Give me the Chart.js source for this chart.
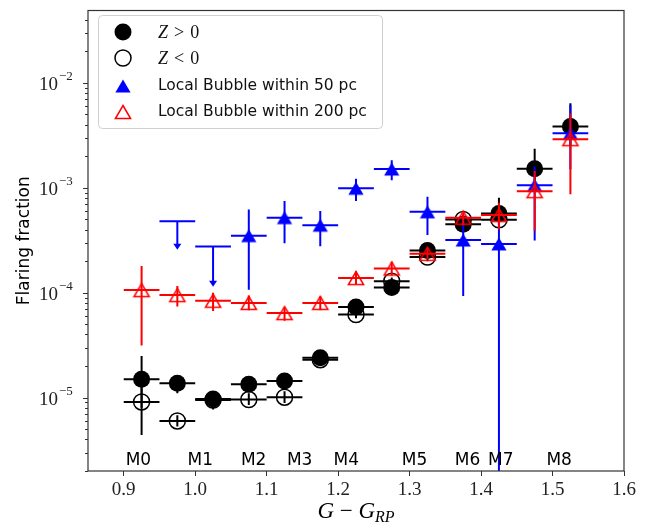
<!DOCTYPE html>
<html>
<head>
<meta charset="utf-8">
<script src="https://cdn.jsdelivr.net/npm/chart.js@4.4.0/dist/chart.umd.min.js"></script>
<style>
  html, body { margin: 0; padding: 0; background: #fff; }
  #wrap { width: 657px; height: 524px; }
</style>
</head>
<body>
<div id="wrap"><canvas id="chart" width="657" height="524"></canvas></div>
<script>
// bins in G - G_RP (centre, half width 0.025)
const binCenters = [0.925, 0.975, 1.025, 1.075, 1.125, 1.175, 1.225, 1.275, 1.325, 1.375, 1.425, 1.475, 1.525];
const binHalf = 0.025;

// Z > 0 (filled black)
const zPos     = [1.5e-5, 1.37e-5, 9.7e-6, 1.34e-5, 1.44e-5, 2.4e-5, 7.3e-5, 1.12e-4, 2.53e-4, 4.5e-4, 5.7e-4, 1.52e-3, 3.84e-3];
const zPosLow  = [8.0e-6, 1.1e-5, 7.7e-6, 1.15e-5, 1.25e-5, 2.2e-5, 6.5e-5, 1.0e-4, 2.3e-4, 4.0e-4, 4.8e-4, 1.1e-3, 2.5e-3];
const zPosHigh = [2.5e-5, 1.6e-5, 1.15e-5, 1.5e-5, 1.6e-5, 2.6e-5, 8.2e-5, 1.25e-4, 2.8e-4, 5.4e-4, 8.05e-4, 2.36e-3, 6.4e-3];

// Z < 0 (open black)
const zNeg     = [9.1e-6, 6.0e-6, 9.5e-6, 9.6e-6, 1.01e-5, 2.3e-5, 6.2e-5, 1.29e-4, 2.19e-4, 5.0e-4, 4.95e-4, null, null];
const zNegLow  = [4.4e-6, 5.3e-6, 8.3e-6, 8.5e-6, 8.9e-6, 2.15e-5, 5.7e-5, 1.18e-4, 2.0e-4, 4.5e-4, 4.4e-4, null, null];
const zNegHigh = [1.3e-5, 6.8e-6, 1.1e-5, 1.1e-5, 1.15e-5, 2.45e-5, 6.7e-5, 1.4e-4, 2.4e-4, 5.5e-4, 5.6e-4, null, null];

// Local Bubble within 50 pc (blue)
const lb50     = [null, null, null, 3.5e-4, 5.2e-4, 4.4e-4, 9.9e-4, 1.51e-3, 5.9e-4, 3.18e-4, 2.92e-4, 1.06e-3, 3.32e-3];
const lb50Low  = [null, null, null, 1.07e-4, 2.97e-4, 2.77e-4, 7.5e-4, 1.18e-3, 3.55e-4, 9.3e-5, 1e-7, 3.15e-4, 1.5e-3];
const lb50High = [null, null, null, 6.2e-4, 7.5e-4, 6.0e-4, 1.22e-3, 1.83e-3, 8.2e-4, 5.5e-4, 4.8e-4, 1.6e-3, 6.2e-3];
// upper limits within 50 pc
const lb50LimX   = [0.975, 1.025];
const lb50Lim    = [4.8e-4, 2.76e-4];
const lb50LimEnd = [2.57e-4, 1.14e-4];

// Local Bubble within 200 pc (open red)
const lb200     = [1.06e-4, 9.5e-5, 8.4e-5, 8.0e-5, 6.4e-5, 8.0e-5, 1.38e-4, 1.7e-4, 2.35e-4, 5.2e-4, 5.5e-4, 9.3e-4, 2.91e-3];
const lb200Low  = [3.15e-5, 7.4e-5, 6.7e-5, 6.8e-5, 5.4e-5, 6.8e-5, 1.2e-4, 1.46e-4, 2.1e-4, 4.4e-4, 4.0e-4, 3.9e-4, 8.7e-4];
const lb200High = [1.8e-4, 1.16e-4, 1.0e-4, 9.4e-5, 7.2e-5, 9.2e-5, 1.6e-4, 1.97e-4, 2.7e-4, 5.8e-4, 7.2e-4, 1.45e-3, 5.1e-3];

// spectral type labels
const spTypes  = ['M0', 'M1', 'M2', 'M3', 'M4', 'M5', 'M6', 'M7', 'M8'];
const spTypeX  = [0.9205, 1.007, 1.0818, 1.1462, 1.2113, 1.307, 1.381, 1.4276, 1.5093];
const spTypeY  = 2.52e-6;

const xTicks = [0.9, 1.0, 1.1, 1.2, 1.3, 1.4, 1.5, 1.6];
const yMajor = [1e-5, 1e-4, 1e-3, 1e-2];

function points(xs, ys) {
  const out = [];
  xs.forEach((x, i) => { if (ys[i] != null) out.push({ x: x, y: ys[i] }); });
  return out;
}
function errs(xs, ys, lo, hi, arrow) {
  const out = [];
  xs.forEach((x, i) => { if (ys[i] != null) out.push({ x: x, y: ys[i], lo: lo[i], hi: hi[i], arrow: !!arrow }); });
  return out;
}

// matplotlib-like '^' marker, centred on its bounding box
function triPath(ctx, cx, cy) {
  ctx.beginPath();
  ctx.moveTo(cx, cy - 6.5);
  ctx.lineTo(cx + 7.6, cy + 6.5);
  ctx.lineTo(cx - 7.6, cy + 6.5);
  ctx.closePath();
}
function triMarker(color, filled) {
  const c = document.createElement('canvas');
  c.width = 20; c.height = 18;
  const g = c.getContext('2d');
  triPath(g, 10, 9);
  if (filled) { g.fillStyle = color; g.fill(); }
  else { g.strokeStyle = color; g.lineWidth = 1.5; g.stroke(); }
  return c;
}
const blueTri = triMarker('#0000ff', true);
const redTri = triMarker('#ff0000', false);

const errorBars = {
  id: 'errorBars',
  beforeDatasetDraw(chart, args) {
    const ds = chart.data.datasets[args.index];
    if (!ds.err) return;
    const { ctx, chartArea: a, scales: { x, y } } = chart;
    ctx.save();
    ctx.beginPath();
    ctx.rect(a.left, a.top, a.right - a.left, a.bottom - a.top);
    ctx.clip();
    ctx.strokeStyle = ds.errColor;
    ctx.fillStyle = ds.errColor;
    ctx.lineWidth = 2;
    ds.err.forEach(e => {
      const px = x.getPixelForValue(e.x);
      const py = y.getPixelForValue(e.y);
      ctx.beginPath();
      ctx.moveTo(x.getPixelForValue(e.x - binHalf), py);
      ctx.lineTo(x.getPixelForValue(e.x + binHalf), py);
      const pLo = y.getPixelForValue(e.lo);
      ctx.moveTo(px, e.arrow ? pLo - 4 : pLo);
      ctx.lineTo(px, y.getPixelForValue(e.hi));
      ctx.stroke();
      if (e.arrow) {
        ctx.beginPath();
        ctx.moveTo(px - 4, pLo - 6);
        ctx.lineTo(px + 4, pLo - 6);
        ctx.lineTo(px, pLo);
        ctx.closePath();
        ctx.fill();
      }
    });
    ctx.restore();
  }
};

const decorations = {
  id: 'decorations',
  afterDraw(chart) {
    const { ctx, chartArea: a, scales: { x, y } } = chart;
    ctx.save();
    // frame
    ctx.strokeStyle = '#333';
    ctx.lineWidth = 1.2;
    ctx.strokeRect(a.left, a.top, a.right - a.left, a.bottom - a.top);

    // y ticks (major + minor) and labels
    ctx.lineWidth = 1;
    for (let d = -6; d <= -1; d++) {
      for (let m = 1; m <= 9; m++) {
        const v = m * Math.pow(10, d);
        if (v < y.min || v > y.max) continue;
        const py = Math.round(y.getPixelForValue(v)) + 0.5;
        const len = m === 1 ? 5 : 3;
        ctx.beginPath();
        ctx.moveTo(a.left, py);
        ctx.lineTo(a.left - len, py);
        ctx.stroke();
      }
    }
    ctx.fillStyle = '#222';
    yMajor.forEach(v => {
      const py = y.getPixelForValue(v);
      const exp = Math.round(Math.log10(v));
      ctx.font = '19px "Liberation Serif", serif';
      ctx.textAlign = 'right';
      ctx.textBaseline = 'middle';
      ctx.fillText('10', 58, py + 2);
      ctx.font = '13px "Liberation Serif", serif';
      ctx.textAlign = 'left';
      ctx.fillText('\u2212' + (-exp), 59, py - 6);
    });

    // spectral type labels
    ctx.fillStyle = '#000';
    ctx.font = '17px "DejaVu Sans", sans-serif';
    ctx.textAlign = 'center';
    ctx.textBaseline = 'middle';
    spTypes.forEach((t, i) => {
      ctx.fillText(t, x.getPixelForValue(spTypeX[i]), y.getPixelForValue(spTypeY));
    });

    // y title
    ctx.save();
    ctx.translate(25, (a.top + a.bottom) / 2);
    ctx.rotate(-Math.PI / 2);
    ctx.font = '17px "DejaVu Sans", sans-serif';
    ctx.fillText('Flaring fraction', 0, 0);
    ctx.restore();

    // x title: G - G_RP
    ctx.textAlign = 'left';
    ctx.textBaseline = 'alphabetic';
    const big = 'italic 23px "Liberation Serif", serif';
    const up = '23px "Liberation Serif", serif';
    const sub = 'italic 16px "Liberation Serif", serif';
    ctx.font = big; const wG = ctx.measureText('G').width;
    ctx.font = up; const wM = ctx.measureText(' \u2212 ').width;
    ctx.font = sub; const wS = ctx.measureText('RP').width;
    let tx = (a.left + a.right) / 2 - (2 * wG + wM + wS) / 2;
    const ty = 518;
    ctx.font = big; ctx.fillText('G', tx, ty); tx += wG;
    ctx.font = up; ctx.fillText(' \u2212 ', tx, ty); tx += wM;
    ctx.font = big; ctx.fillText('G', tx, ty); tx += wG;
    ctx.font = sub; ctx.fillText('RP', tx, ty + 4);

    // legend
    const lx = 98, ly = 15, lw = 284, lh = 113;
    ctx.beginPath();
    ctx.roundRect(lx + 0.5, ly + 0.5, lw, lh, 4);
    ctx.fillStyle = 'rgba(255,255,255,0.8)';
    ctx.fill();
    ctx.strokeStyle = '#d0d0d0';
    ctx.lineWidth = 1;
    ctx.stroke();

    const mx = 123, rows = [32, 58, 86, 112];
    ctx.fillStyle = '#000';
    ctx.beginPath(); ctx.arc(mx, rows[0], 8.5, 0, Math.PI * 2); ctx.fill();
    ctx.strokeStyle = '#000'; ctx.lineWidth = 1.5;
    ctx.beginPath(); ctx.arc(mx, rows[1], 8, 0, Math.PI * 2); ctx.stroke();
    ctx.drawImage(blueTri, mx - 10, rows[2] - 9);
    ctx.drawImage(redTri, mx - 10, rows[3] - 9);

    ctx.fillStyle = '#111';
    ctx.textBaseline = 'middle';
    const tx0 = 158;
    [['>', rows[0]], ['<', rows[1]]].forEach(([op, ry]) => {
      let px = tx0;
      ctx.font = 'italic 18px "Liberation Serif", serif';
      ctx.fillText('Z', px, ry + 1); px += ctx.measureText('Z').width + 6;
      ctx.font = '18px "Liberation Serif", serif';
      ctx.fillText(op, px, ry + 1); px += ctx.measureText(op).width + 6;
      ctx.fillText('0', px, ry + 1);
    });
    ctx.font = '15.5px "DejaVu Sans", sans-serif';
    ctx.fillText('Local Bubble within 50 pc', tx0, rows[2]);
    ctx.fillText('Local Bubble within 200 pc', tx0, rows[3]);
    ctx.restore();
  }
};

new Chart(document.getElementById('chart'), {
  type: 'scatter',
  data: {
    datasets: [
      {
        label: 'Z > 0',
        data: points(binCenters, zPos),
        err: errs(binCenters, zPos, zPosLow, zPosHigh),
        errColor: '#000',
        pointStyle: 'circle', pointRadius: 8.5,
        backgroundColor: '#000', borderColor: '#000', borderWidth: 0,
        order: 4
      },
      {
        label: 'Z < 0',
        data: points(binCenters, zNeg),
        err: errs(binCenters, zNeg, zNegLow, zNegHigh),
        errColor: '#000',
        pointStyle: 'circle', pointRadius: 8,
        backgroundColor: 'rgba(0,0,0,0)', borderColor: '#000', borderWidth: 1.5,
        order: 3
      },
      {
        label: 'Local Bubble within 50 pc',
        data: points(binCenters, lb50),
        err: errs(binCenters, lb50, lb50Low, lb50High),
        errColor: '#0000ff',
        pointStyle: blueTri, pointRadius: 9,
        backgroundColor: '#0000ff', borderColor: '#0000ff', borderWidth: 0,
        order: 2
      },
      {
        label: 'Local Bubble within 50 pc (upper limits)',
        data: points(lb50LimX, lb50Lim),
        err: errs(lb50LimX, lb50Lim, lb50LimEnd, lb50Lim, true),
        errColor: '#0000ff',
        pointRadius: 0,
        order: 2
      },
      {
        label: 'Local Bubble within 200 pc',
        data: points(binCenters, lb200),
        err: errs(binCenters, lb200, lb200Low, lb200High),
        errColor: '#ff0000',
        pointStyle: redTri, pointRadius: 9,
        backgroundColor: 'rgba(0,0,0,0)', borderColor: '#ff0000', borderWidth: 1.5,
        order: 1
      }
    ]
  },
  options: {
    responsive: false,
    animation: false,
    events: [],
    layout: { padding: { top: 3, right: 33, left: 0, bottom: 0 } },
    plugins: { legend: { display: false }, tooltip: { enabled: false } },
    scales: {
      x: {
        type: 'linear',
        min: 0.85,
        max: 1.6,
        afterBuildTicks: s => { s.ticks = xTicks.map(v => ({ value: v })); },
        afterFit: s => { s.height = 53; },
        border: { display: false },
        grid: { drawOnChartArea: false, drawTicks: true, tickLength: 5, color: '#333' },
        ticks: {
          autoSkip: false,
          maxRotation: 0,
          padding: 3,
          color: '#222',
          font: { family: '"Liberation Serif", serif', size: 19 },
          callback: v => v.toFixed(1)
        }
      },
      y: {
        type: 'logarithmic',
        min: 2.0e-6,
        max: 4.9e-2,
        afterFit: s => { s.width = 88; },
        border: { display: false },
        grid: { display: false },
        ticks: { display: false }
      }
    }
  },
  plugins: [errorBars, decorations]
});
</script>
</body>
</html>
